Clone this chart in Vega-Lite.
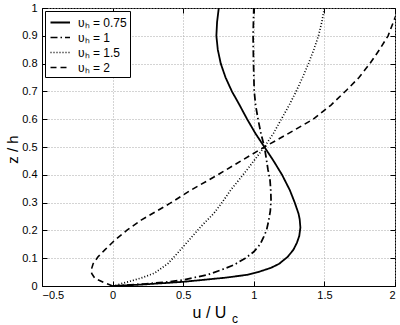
{
  "$schema": "https://vega.github.io/schema/vega-lite/v6.json",
  "width": 353,
  "height": 278,
  "autosize": {"type": "none"},
  "padding": {"left": 42, "top": 8, "right": 5, "bottom": 39},
  "background": "white",
  "config": {
    "font": "Liberation Sans",
    "view": {"stroke": "black", "strokeWidth": 1},
    "axis": {
      "domainColor": "black",
      "tickColor": "black",
      "tickSize": -5,
      "labelColor": "black",
      "labelFontSize": 11,
      "labelFont": "Liberation Sans",
      "titleFont": "Liberation Sans",
      "titleFontWeight": "normal",
      "titleColor": "black",
      "gridColor": "#a8a8a8",
      "gridDash": [1, 2],
      "gridOpacity": 1,
      "gridWidth": 1
    },
    "legend": {
      "orient": "top-left",
      "offset": 3,
      "strokeColor": "black",
      "fillColor": "white",
      "padding": 3,
      "cornerRadius": 0
    }
  },
  "resolve": {"axis": {"x": "independent", "y": "independent"}},
  "layer": [
    {
      "data": {
        "values": [
          {"s": "υₕ = 0.75", "z": 0, "u": 0},
          {"s": "υₕ = 0.75", "z": 0.005, "u": 0.2},
          {"s": "υₕ = 0.75", "z": 0.015, "u": 0.5},
          {"s": "υₕ = 0.75", "z": 0.03, "u": 0.8},
          {"s": "υₕ = 0.75", "z": 0.04, "u": 0.95},
          {"s": "υₕ = 0.75", "z": 0.05, "u": 1.03},
          {"s": "υₕ = 0.75", "z": 0.065, "u": 1.12},
          {"s": "υₕ = 0.75", "z": 0.08, "u": 1.18},
          {"s": "υₕ = 0.75", "z": 0.105, "u": 1.24},
          {"s": "υₕ = 0.75", "z": 0.13, "u": 1.28},
          {"s": "υₕ = 0.75", "z": 0.155, "u": 1.305},
          {"s": "υₕ = 0.75", "z": 0.18, "u": 1.322},
          {"s": "υₕ = 0.75", "z": 0.21, "u": 1.33},
          {"s": "υₕ = 0.75", "z": 0.24, "u": 1.325},
          {"s": "υₕ = 0.75", "z": 0.26, "u": 1.317},
          {"s": "υₕ = 0.75", "z": 0.3, "u": 1.29},
          {"s": "υₕ = 0.75", "z": 0.345, "u": 1.255},
          {"s": "υₕ = 0.75", "z": 0.4, "u": 1.2},
          {"s": "υₕ = 0.75", "z": 0.45, "u": 1.14},
          {"s": "υₕ = 0.75", "z": 0.5, "u": 1.075},
          {"s": "υₕ = 0.75", "z": 0.55, "u": 1.01},
          {"s": "υₕ = 0.75", "z": 0.6, "u": 0.953},
          {"s": "υₕ = 0.75", "z": 0.65, "u": 0.9},
          {"s": "υₕ = 0.75", "z": 0.7, "u": 0.845},
          {"s": "υₕ = 0.75", "z": 0.75, "u": 0.8},
          {"s": "υₕ = 0.75", "z": 0.8, "u": 0.766},
          {"s": "υₕ = 0.75", "z": 0.85, "u": 0.745},
          {"s": "υₕ = 0.75", "z": 0.9, "u": 0.735},
          {"s": "υₕ = 0.75", "z": 0.95, "u": 0.74},
          {"s": "υₕ = 0.75", "z": 1, "u": 0.752},
          {"s": "υₕ = 1", "z": 0, "u": 0},
          {"s": "υₕ = 1", "z": 0.007, "u": 0.22},
          {"s": "υₕ = 1", "z": 0.015, "u": 0.4},
          {"s": "υₕ = 1", "z": 0.022, "u": 0.5},
          {"s": "υₕ = 1", "z": 0.04, "u": 0.67},
          {"s": "υₕ = 1", "z": 0.058, "u": 0.77},
          {"s": "υₕ = 1", "z": 0.076, "u": 0.86},
          {"s": "υₕ = 1", "z": 0.1, "u": 0.94},
          {"s": "υₕ = 1", "z": 0.123, "u": 1.0},
          {"s": "υₕ = 1", "z": 0.15, "u": 1.045},
          {"s": "υₕ = 1", "z": 0.177, "u": 1.07},
          {"s": "υₕ = 1", "z": 0.2, "u": 1.09},
          {"s": "υₕ = 1", "z": 0.237, "u": 1.106},
          {"s": "υₕ = 1", "z": 0.27, "u": 1.117},
          {"s": "υₕ = 1", "z": 0.31, "u": 1.122},
          {"s": "υₕ = 1", "z": 0.345, "u": 1.12},
          {"s": "υₕ = 1", "z": 0.38, "u": 1.115},
          {"s": "υₕ = 1", "z": 0.42, "u": 1.1},
          {"s": "υₕ = 1", "z": 0.46, "u": 1.088},
          {"s": "υₕ = 1", "z": 0.5, "u": 1.075},
          {"s": "υₕ = 1", "z": 0.55, "u": 1.05},
          {"s": "υₕ = 1", "z": 0.6, "u": 1.03},
          {"s": "υₕ = 1", "z": 0.65, "u": 1.013},
          {"s": "υₕ = 1", "z": 0.7, "u": 1.003},
          {"s": "υₕ = 1", "z": 0.8, "u": 0.998},
          {"s": "υₕ = 1", "z": 0.9, "u": 0.995},
          {"s": "υₕ = 1", "z": 1, "u": 1.0},
          {"s": "υₕ = 1.5", "z": 0, "u": 0},
          {"s": "υₕ = 1.5", "z": 0.015, "u": 0.11},
          {"s": "υₕ = 1.5", "z": 0.03, "u": 0.21},
          {"s": "υₕ = 1.5", "z": 0.046, "u": 0.296},
          {"s": "υₕ = 1.5", "z": 0.08, "u": 0.39},
          {"s": "υₕ = 1.5", "z": 0.118, "u": 0.46},
          {"s": "υₕ = 1.5", "z": 0.17, "u": 0.55},
          {"s": "υₕ = 1.5", "z": 0.213, "u": 0.624},
          {"s": "υₕ = 1.5", "z": 0.262, "u": 0.718},
          {"s": "υₕ = 1.5", "z": 0.3, "u": 0.775},
          {"s": "υₕ = 1.5", "z": 0.345, "u": 0.836},
          {"s": "υₕ = 1.5", "z": 0.381, "u": 0.894},
          {"s": "υₕ = 1.5", "z": 0.42, "u": 0.955},
          {"s": "υₕ = 1.5", "z": 0.46, "u": 1.015},
          {"s": "υₕ = 1.5", "z": 0.5, "u": 1.075},
          {"s": "υₕ = 1.5", "z": 0.55, "u": 1.14},
          {"s": "υₕ = 1.5", "z": 0.6, "u": 1.195},
          {"s": "υₕ = 1.5", "z": 0.65, "u": 1.25},
          {"s": "υₕ = 1.5", "z": 0.7, "u": 1.3},
          {"s": "υₕ = 1.5", "z": 0.75, "u": 1.345},
          {"s": "υₕ = 1.5", "z": 0.8, "u": 1.387},
          {"s": "υₕ = 1.5", "z": 0.85, "u": 1.425},
          {"s": "υₕ = 1.5", "z": 0.9, "u": 1.458},
          {"s": "υₕ = 1.5", "z": 0.95, "u": 1.482},
          {"s": "υₕ = 1.5", "z": 1, "u": 1.5},
          {"s": "υₕ = 2", "z": 0, "u": 0},
          {"s": "υₕ = 2", "z": 0.006, "u": -0.03},
          {"s": "υₕ = 2", "z": 0.012, "u": -0.06},
          {"s": "υₕ = 2", "z": 0.028, "u": -0.126},
          {"s": "υₕ = 2", "z": 0.045, "u": -0.148},
          {"s": "υₕ = 2", "z": 0.06, "u": -0.15},
          {"s": "υₕ = 2", "z": 0.08, "u": -0.138},
          {"s": "υₕ = 2", "z": 0.105, "u": -0.103},
          {"s": "υₕ = 2", "z": 0.13, "u": -0.055},
          {"s": "υₕ = 2", "z": 0.165, "u": 0.016},
          {"s": "υₕ = 2", "z": 0.2, "u": 0.1},
          {"s": "υₕ = 2", "z": 0.237, "u": 0.202},
          {"s": "υₕ = 2", "z": 0.297, "u": 0.405},
          {"s": "υₕ = 2", "z": 0.345, "u": 0.555},
          {"s": "υₕ = 2", "z": 0.4, "u": 0.745},
          {"s": "υₕ = 2", "z": 0.45, "u": 0.91},
          {"s": "υₕ = 2", "z": 0.5, "u": 1.075},
          {"s": "υₕ = 2", "z": 0.55, "u": 1.25},
          {"s": "υₕ = 2", "z": 0.6, "u": 1.42},
          {"s": "υₕ = 2", "z": 0.65, "u": 1.545},
          {"s": "υₕ = 2", "z": 0.705, "u": 1.658},
          {"s": "υₕ = 2", "z": 0.75, "u": 1.745},
          {"s": "υₕ = 2", "z": 0.8, "u": 1.822},
          {"s": "υₕ = 2", "z": 0.85, "u": 1.89},
          {"s": "υₕ = 2", "z": 0.9, "u": 1.951},
          {"s": "υₕ = 2", "z": 0.965, "u": 2.0},
          {"s": "υₕ = 2", "z": 1, "u": 2.03}
        ]
      },
      "mark": {"type": "line", "clip": true, "color": "black", "strokeCap": "butt"},
      "encoding": {
        "x": {
          "field": "u", "type": "quantitative",
          "scale": {"domain": [-0.5, 2], "nice": false, "zero": false},
          "axis": {"values": [-0.5, 0, 0.5, 1, 1.5, 2], "format": "~g", "title": "u / U", "titleFontSize": 16, "titleX": 167, "titlePadding": 4, "labelPadding": 8, "grid": true}
        },
        "y": {
          "field": "z", "type": "quantitative",
          "scale": {"domain": [0, 1], "nice": false, "zero": false},
          "axis": {"values": [0, 0.1, 0.2, 0.3, 0.4, 0.5, 0.6, 0.7, 0.8, 0.9, 1], "format": "~g", "title": "z / h", "titleFontSize": 15, "titleX": -30, "titleY": 141, "titleBaseline": "middle", "titleAlign": "center", "titleAngle": 270, "labelPadding": 10, "grid": true}
        },
        "order": {"field": "z", "type": "quantitative"},
        "strokeDash": {
          "field": "s", "type": "nominal",
          "scale": {"domain": ["υₕ = 0.75", "υₕ = 1", "υₕ = 1.5", "υₕ = 2"], "range": [[1, 0], [7, 3, 1.5, 3], [1, 2], [6, 4]]},
          "legend": {"title": null, "symbolType": "M-0.8,0H1.8", "symbolSize": 225, "symbolStrokeColor": "black", "symbolStrokeWidth": 1.5, "labelFontSize": 12, "labelColor": "black", "labelOffset": 13, "rowPadding": 0}
        },
        "strokeWidth": {
          "field": "s", "type": "nominal",
          "scale": {"domain": ["υₕ = 0.75", "υₕ = 1", "υₕ = 1.5", "υₕ = 2"], "range": [1.8, 1.6, 1, 1.6]},
          "legend": null
        }
      }
    },
    {
      "data": {"values": [{"t": "c"}]},
      "mark": {"type": "text", "align": "left", "baseline": "alphabetic", "fontSize": 12, "color": "black", "clip": false},
      "encoding": {
        "text": {"field": "t", "type": "nominal"},
        "x": {"datum": 0.845, "type": "quantitative", "scale": {"domain": [-0.5, 2], "nice": false, "zero": false},
              "axis": {"orient": "top", "values": [-0.5, 0, 0.5, 1, 1.5, 2], "labels": false, "domain": false, "grid": false, "title": null}},
        "y": {"datum": -0.133, "type": "quantitative", "scale": {"domain": [0, 1], "nice": false, "zero": false},
              "axis": {"orient": "right", "values": [0, 0.1, 0.2, 0.3, 0.4, 0.5, 0.6, 0.7, 0.8, 0.9, 1], "labels": false, "domain": false, "grid": false, "title": null}}
      }
    }
  ]
}
